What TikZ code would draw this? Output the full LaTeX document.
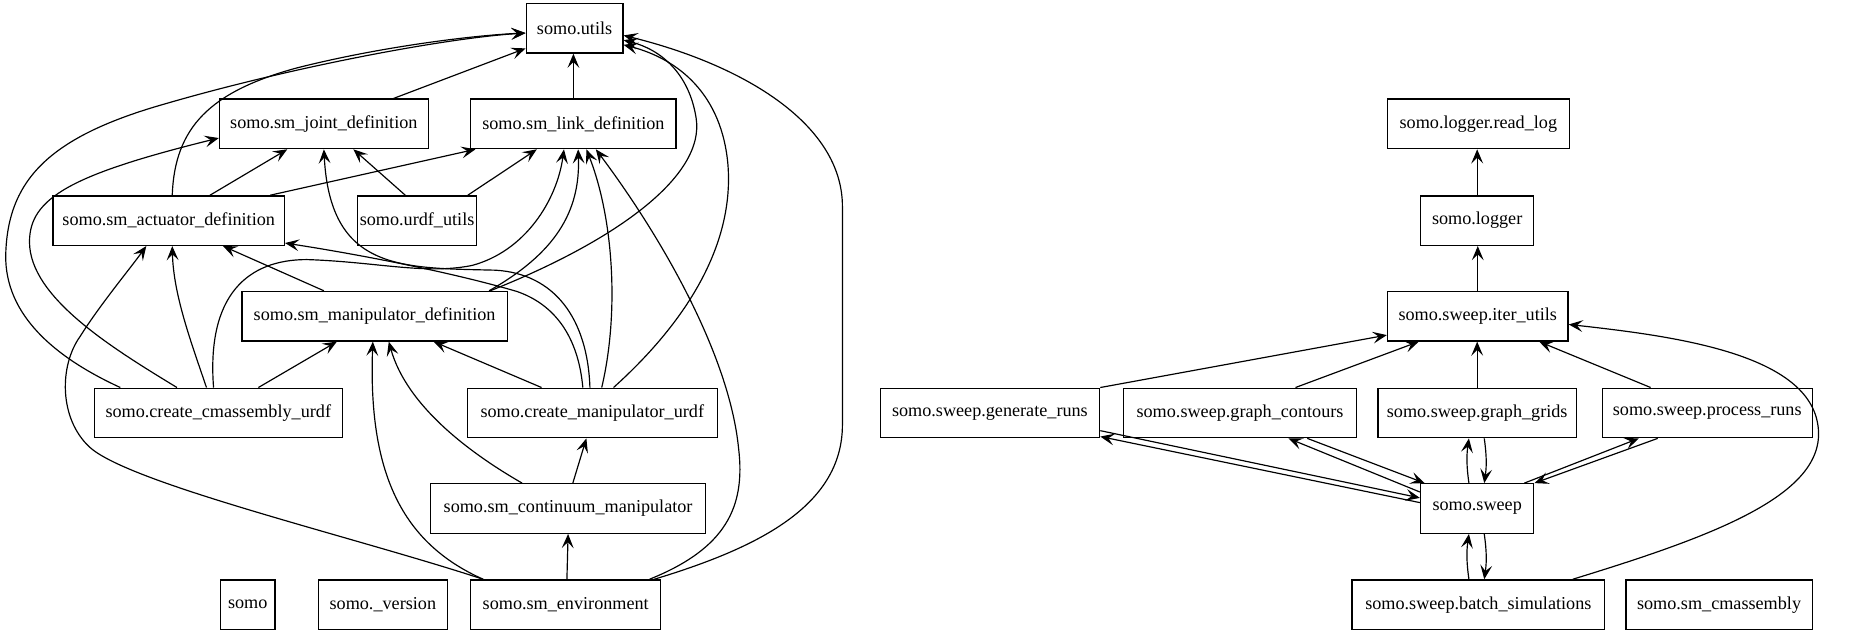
\documentclass[tikz,border=0pt]{standalone}
\usepackage{fontspec}
\setmainfont{Liberation Serif}
\usetikzlibrary{arrows.meta}
\begin{document}
\begin{tikzpicture}[x=1pt,y=-1pt,
  box/.style={draw,line width=1.1pt,minimum width=#1,minimum height=42pt,inner xsep=2pt,inner ysep=0pt,font=\fontsize{15.4}{18}\selectfont},
  dep/.style={line width=1pt,-{Stealth[length=12pt,width=10pt,inset=5pt]}}]
\useasboundingbox (0,0) rectangle (1568,538);
% left graph nodes
\node[box=82pt] (utils) at (487,24) {somo.utils};
\node[box=177pt] (joint) at (274.5,105) {somo.sm\_joint\_definition};
\node[box=174pt] (link) at (486,105) {somo.sm\_link\_definition};
\node[box=196pt] (act) at (143,187) {somo.sm\_actuator\_definition};
\node[box=89pt] (urdf) at (353.5,187) {somo.urdf\_utils};
\node[box=225pt] (manip) at (317.5,268) {somo.sm\_manipulator\_definition};
\node[box=210pt] (cmass) at (185,350) {somo.create\_cmassembly\_urdf};
\node[box=212pt] (cmanip) at (502,350) {somo.create\_manipulator\_urdf};
\node[box=233pt] (cont) at (481.5,431) {somo.sm\_continuum\_manipulator};
\node[box=46pt] (somo) at (210,512.5) {somo};
\node[box=109pt] (version) at (324.5,512.5) {somo.\_version};
\node[box=161pt] (env) at (479.5,512.5) {somo.sm\_environment};
% right graph nodes
\node[box=154pt] (readlog) at (1253,105) {somo.logger.read\_log};
\node[box=96pt] (logger) at (1252,187) {somo.logger};
\node[box=153pt] (iter) at (1252.5,268) {somo.sweep.iter\_utils};
\node[box=186pt] (gen) at (839,350) {somo.sweep.generate\_runs};
\node[box=198pt] (contours) at (1051,350) {somo.sweep.graph\_contours};
\node[box=168pt] (grids) at (1252,350) {somo.sweep.graph\_grids};
\node[box=178pt] (process) at (1447,350) {somo.sweep.process\_runs};
\node[box=96pt] (sweep) at (1252,431) {somo.sweep};
\node[box=214pt] (batch) at (1253,512.5) {somo.sweep.batch\_simulations};
\node[box=158pt] (cmassembly) at (1457,512.5) {somo.sm\_cmassembly};
% left graph edges
\draw[dep] ([xshift=59pt]joint.north) -- ([yshift=-17pt]utils.west);
\draw[dep] (link.north) -- (link.north |- utils.south);
\draw[dep] ([xshift=3pt]act.north) .. controls (148,108) and (178,78) .. (250,58) .. controls (320,40) and (400,30) .. ([yshift=-4pt]utils.west);
\draw[dep] ([xshift=-83pt]cmass.north) .. controls (40,300) and (2,262) .. (5,212) .. controls (8,150) and (45,115) .. (140,88) .. controls (250,56) and (380,32) .. ([yshift=-4pt]utils.west);
\draw[dep] ([xshift=-35pt]cmass.north) .. controls (95,295) and (25,252) .. (25,205) .. controls (25,168) and (60,148) .. ([yshift=-12pt]joint.west);
\draw[dep] ([xshift=-10pt]cmass.north) .. controls (162,290) and (147,250) .. ([xshift=3pt]act.south);
\draw[dep] ([xshift=-70pt]env.north) .. controls (300,455) and (110,410) .. (76,379) .. controls (50,355) and (50,310) .. (68,285) .. controls (85,258) and (110,228) .. ([xshift=-19pt]act.south);
\draw[dep] ([xshift=34pt]cmass.north) -- ([xshift=-32pt]manip.south);
\draw[dep] ([xshift=-4pt]cmass.north) .. controls (175,250) and (210,220) .. (260,220) .. controls (320,222) and (360,233) .. (400,225) .. controls (445,213) and (472,170) .. ([xshift=-8pt]link.south);
\draw[dep] ([xshift=35pt]act.north) -- ([xshift=-31pt]joint.south);
\draw[dep] ([xshift=86pt]act.north) -- ([xshift=-83pt]link.south);
\draw[dep] ([xshift=-10pt]urdf.north) -- ([xshift=25pt]joint.south);
\draw[dep] ([xshift=43pt]urdf.north) -- ([xshift=-31pt]link.south);
\draw[dep] ([xshift=-43pt]manip.north) -- ([xshift=46pt]act.south);
\draw[dep] ([xshift=97pt]manip.north) .. controls (470,215) and (492,180) .. ([xshift=4pt]link.south);
\draw[dep] ([xshift=98pt]manip.north) .. controls (520,205) and (598,150) .. (590,100) .. controls (584,62) and (560,42) .. ([yshift=-10pt]utils.east);
\draw[dep] ([xshift=-43pt]cmanip.north) -- ([xshift=50pt]manip.south);
\draw[dep] ([xshift=-8pt]cmanip.north) .. controls (490,285) and (470,258) .. (438,247) .. controls (380,230) and (300,215) .. ([yshift=-19pt]act.east);
\draw[dep] ([xshift=-2pt]cmanip.north) .. controls (498,270) and (470,232) .. (420,229) .. controls (340,227) and (280,230) .. (joint.south);
\draw[dep] ([xshift=8pt]cmanip.north) .. controls (525,265) and (520,185) .. ([xshift=11pt]link.south);
\draw[dep] ([xshift=18pt]cmanip.north) .. controls (585,270) and (622,205) .. (617,140) .. controls (612,80) and (575,50) .. ([yshift=-14pt]utils.east);
\draw[dep] ([xshift=4pt]cont.north) -- ([xshift=-5pt]cmanip.south);
\draw[dep] ([xshift=-39pt]cont.north) .. controls (400,385) and (345,345) .. ([xshift=12pt]manip.south);
\draw[dep] ([xshift=1pt]env.north) -- (cont.south);
\draw[dep] ([xshift=-70pt]env.north) .. controls (340,460) and (312,400) .. ([xshift=-1.5pt]manip.south);
\draw[dep] ([xshift=71pt]env.north) .. controls (615,465) and (632,430) .. (626,380) .. controls (618,300) and (560,200) .. ([xshift=19pt]link.south);
\draw[dep] ([xshift=75pt]env.north) .. controls (640,465) and (714,430) .. (714,360) -- (714,175) .. controls (714,105) and (630,55) .. ([yshift=-6pt]utils.east);
% right graph edges
\draw[dep] (logger.north) -- (logger.north |- readlog.south);
\draw[dep] (iter.north) -- (iter.north |- logger.south);
\draw[dep] (gen.north east) -- ([yshift=-16pt]iter.west);
\draw[dep] ([xshift=47pt]contours.north) -- ([xshift=-50pt]iter.south);
\draw[dep] (grids.north) -- (grids.north |- iter.south);
\draw[dep] ([xshift=-48pt]process.north) -- ([xshift=52pt]iter.south);
\draw[dep] ([xshift=80pt]batch.north) .. controls (1450,455) and (1548,420) .. (1541,362) .. controls (1534,300) and (1420,285) .. ([yshift=-7pt]iter.east);
\draw[dep] ([yshift=-15pt]gen.east) -- ([yshift=9pt]sweep.west);
\draw[dep] ([yshift=5pt]sweep.west) -- ([yshift=-20pt]gen.east);
\draw[dep] ([xshift=57pt]contours.south) -- ([xshift=4pt]sweep.north west);
\draw[dep] ([yshift=14pt]sweep.west) -- ([xshift=41pt]contours.south);
\draw[dep] ([xshift=-7pt]sweep.north) to[bend left=8] ([xshift=-7pt]grids.south);
\draw[dep] ([xshift=6pt]grids.south) to[bend left=8] ([xshift=6pt]sweep.north);
\draw[dep] ([xshift=40pt]sweep.north) -- ([xshift=-58pt]process.south);
\draw[dep] ([xshift=-42pt]process.south) -- (sweep.north east);
\draw[dep] ([xshift=-8pt]batch.north) to[bend left=8] ([xshift=-7pt]sweep.south);
\draw[dep] ([xshift=6pt]sweep.south) to[bend left=8] ([xshift=5pt]batch.north);
\end{tikzpicture}
\end{document}
